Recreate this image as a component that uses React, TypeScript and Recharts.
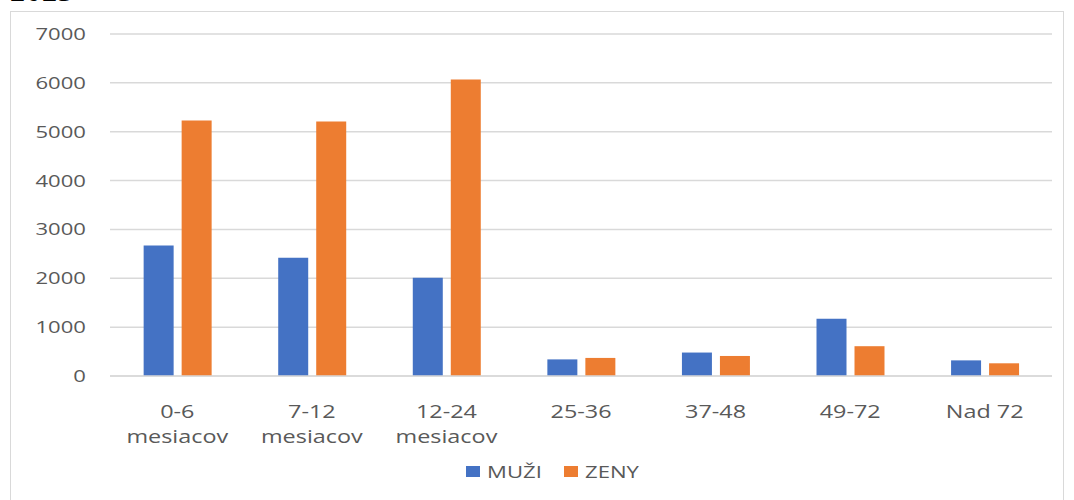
import React from "react";
import { BarChart, Bar, XAxis, YAxis, CartesianGrid } from "recharts";

const categories = ["0-6|mesiacov", "7-12|mesiacov", "12-24|mesiacov", "25-36", "37-48", "49-72", "Nad 72"];
const muzi = [2670, 2420, 2010, 340, 480, 1170, 320];
const zeny = [5230, 5210, 6070, 370, 410, 610, 260];
const yTicks = [0, 1000, 2000, 3000, 4000, 5000, 6000, 7000];
const seriesNames = ["MUŽI", "ZENY"];
const seriesColors = ["#4472C4", "#ED7D31"];

const data = categories.map((c, i) => ({ name: c, muzi: muzi[i], zeny: zeny[i] }));

const FONT = "'Open Sans', 'Noto Sans', sans-serif";
const GRAY = "#595959";
const SX = 1.3;

const XTick = (props: any) => {
  const { x, y, payload } = props;
  const lines = String(payload.value).split("|");
  return (
    <g transform={`translate(${x},${y}) scale(${SX},1)`}>
      <text x={0} y={0} textAnchor="middle" fill={GRAY} fontSize={18} fontFamily={FONT}>
        {lines.map((l: string, i: number) => (
          <tspan key={i} x={0} dy={i === 0 ? 34 : 25}>{l}</tspan>
        ))}
      </text>
    </g>
  );
};

const YTick = (props: any) => {
  const { x, y, payload } = props;
  return (
    <g transform={`translate(${x},${y}) scale(${SX},1)`}>
      <text x={0} y={0} dy={6} textAnchor="end" fill={GRAY} fontSize={17} fontFamily={FONT}>
        {payload.value}
      </text>
    </g>
  );
};

export default function App() {
  return (
    <div style={{ position: "absolute", left: 0, top: 0, width: 1074, height: 500, background: "#fff", overflow: "hidden" }}>
      <div style={{ position: "absolute", left: 10, top: -24, fontFamily: "'Liberation Serif', serif", fontWeight: "bold", fontSize: 30, lineHeight: "30px", color: "#000", letterSpacing: 1 }}>2023</div>
      <div style={{ position: "absolute", left: 10, top: 11, width: 1054, height: 500, border: "1px solid #d9d9d9", boxSizing: "border-box" }} />
      <div style={{ position: "absolute", left: 0, top: 0 }}>
        <BarChart width={1074} height={500} data={data} margin={{ top: 34, right: 22, left: 0, bottom: 64 }} barGap={8} barCategoryGap="25%">
          <CartesianGrid vertical={false} stroke="#d9d9d9" strokeWidth={1.5} />
          <XAxis dataKey="name" interval={0} tick={<XTick />} tickLine={false} axisLine={{ stroke: "#d9d9d9", strokeWidth: 1.5 }} height={60} />
          <YAxis width={110} domain={[0, 7000]} ticks={yTicks} tickLine={false} axisLine={false} tickSize={0} tickMargin={24} tick={<YTick />} />
          <Bar dataKey="muzi" name={seriesNames[0]} fill={seriesColors[0]} isAnimationActive={false} />
          <Bar dataKey="zeny" name={seriesNames[1]} fill={seriesColors[1]} isAnimationActive={false} />
        </BarChart>
      </div>
      <div style={{ position: "absolute", left: 0, width: 1074, top: 460, display: "flex", justifyContent: "center", paddingLeft: 33, boxSizing: "border-box" }}>
        {seriesNames.map((n, i) => (
          <div key={n} style={{ display: "flex", alignItems: "center", marginRight: i === 0 ? 20 : 0 }}>
            <span style={{ display: "inline-block", width: 14, height: 11, background: seriesColors[i], marginRight: 7 }} />
            <span style={{ display: "inline-block", width: 57, whiteSpace: "nowrap" }}>
              <span style={{ display: "inline-block", fontFamily: FONT, fontSize: 17, color: GRAY, transform: `scaleX(${SX})`, transformOrigin: "left center" }}>{n}</span>
            </span>
          </div>
        ))}
      </div>
    </div>
  );
}
